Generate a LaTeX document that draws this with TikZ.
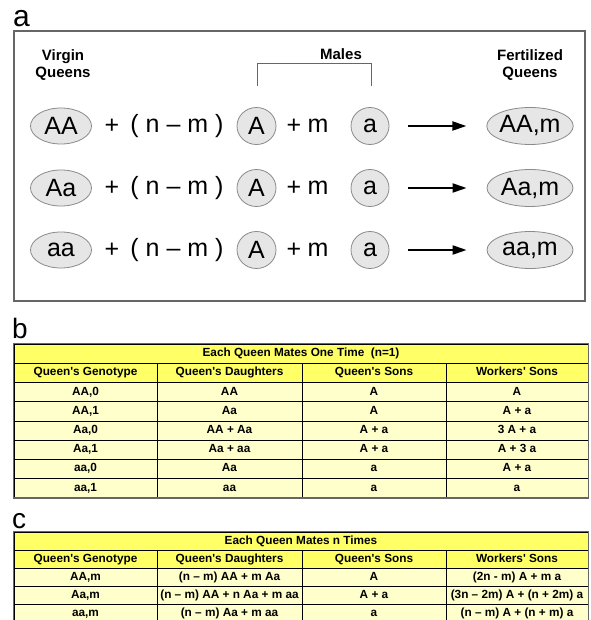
\documentclass[tikz,border=0pt]{standalone}
\usepackage{fontspec}
\setmainfont{Liberation Sans}
\usetikzlibrary{shapes.geometric,arrows.meta}
\definecolor{hdr}{HTML}{FFFF66}
\definecolor{rowc}{HTML}{FFFFCC}
\definecolor{ellf}{HTML}{E6E6E6}
\definecolor{elld}{HTML}{8A8A8A}
\definecolor{frm}{HTML}{666666}
\newcommand\mkrow[8]{%
 \node[cell,fill=#3,minimum width=143pt,minimum height=#8] (#1-1) at (85.5,#2) {#4};
 \node[cell,fill=#3,minimum width=145pt,minimum height=#8] (#1-2) at (229.5,#2) {#5};
 \node[cell,fill=#3,minimum width=144pt,minimum height=#8] (#1-3) at (374,#2) {#6};
 \node[cell,fill=#3,minimum width=142pt,minimum height=#8] (#1-4) at (517,#2) {#7};}
\newcommand\qs{\textquotesingle}
\begin{document}
\begin{tikzpicture}[x=1pt,y=-1pt,
  big/.style={font=\fontsize{25}{28}\selectfont, inner sep=0pt},
  panel/.style={font=\fontsize{30}{32}\selectfont, inner sep=0pt, anchor=base west},
  head/.style={font=\fontsize{15}{17.5}\selectfont\bfseries, align=center, inner sep=0pt},
  gen/.style={ellipse, draw=elld, fill=ellf, line width=0.8pt, inner sep=0pt,
     minimum height=36pt, font=\fontsize{25}{28}\selectfont},
  conn/.style={line width=2pt, -{Triangle[length=14pt,width=9pt]}},
  cell/.style={rectangle, draw=black, line width=0.6pt, inner sep=0pt,
     font=\fontsize{11.8}{13}\selectfont\bfseries, text height=8.6pt, text depth=2.4pt},
  ttl/.style={cell, minimum width=574pt, fill=hdr}]
\useasboundingbox (0,0) rectangle (590,620);

% ---------- panel a ----------
\node[panel] (la) at (13,27) {a};
\draw[frm, line width=1.2pt] (14,31) rectangle (585,301);
\node[head] (vq) at (63,65) {Virgin\\Queens};
\node[head] (ml) at (341,54) {Males};
\node[head] (fq) at (530,65) {Fertilized\\Queens};
\draw[frm, line width=1pt] (257,86) -- (257,64) -- (371,64) -- (371,86);

\foreach \y/\g/\r/\i in {126/AA/{AA,m}/1, 188/Aa/{Aa,m}/2, 250/aa/{aa,m}/3}{
  \node[gen, minimum width=61pt] (q\i) at (61,\y) {\g};
  \node[big] (p\i) at (112,\y) {+};
  \node[big] (nm\i) at (177,\y) {( n – m )};
  \node[gen, minimum width=39pt, minimum height=37pt] (cA\i) at (256.5,\y) {A};
  \node[big] (pp\i) at (294,\y) {+};
  \node[big] (m\i) at (318,\y) {m};
  \node[gen, minimum width=38pt, minimum height=37pt] (ca\i) at (370,\y) {a};
  \node[gen, minimum width=86pt, minimum height=37pt] (f\i) at (530,\y) {\r};
  \draw[conn, shorten <=19pt, shorten >=20pt] (ca\i) -- (f\i);
}

% ---------- panel b ----------
\node[panel, font=\fontsize{28}{30}\selectfont] (lb) at (12,338) {b};
\node[ttl, minimum height=19.2pt] (bt) at (301,353.6) {Each Queen Mates One Time \ (n=1)};
\mkrow{bh}{372.8}{hdr}{Queen\qs s Genotype}{Queen\qs s Daughters}{Queen\qs s Sons}{Workers\qs\ Sons}{19.2pt}
\mkrow{b1}{392}{rowc}{AA,0}{AA}{A}{A}{19.2pt}
\mkrow{b2}{411.2}{rowc}{AA,1}{Aa}{A}{A + a}{19.2pt}
\mkrow{b3}{430.4}{rowc}{Aa,0}{AA + Aa}{A + a}{3 A + a}{19.2pt}
\mkrow{b4}{449.6}{rowc}{Aa,1}{Aa + aa}{A + a}{A + 3 a}{19.2pt}
\mkrow{b5}{468.8}{rowc}{aa,0}{Aa}{a}{A + a}{19.2pt}
\mkrow{b6}{488}{rowc}{aa,1}{aa}{a}{a}{19.2pt}
\draw[frm, line width=1.5pt] (bt.north west) rectangle (b6-4.south east);

% ---------- panel c ----------
\node[panel, font=\fontsize{28}{30}\selectfont] (lc) at (12,528) {c};
\node[ttl, minimum height=18pt] (ct) at (301,541) {Each Queen Mates n Times};
\mkrow{ch}{559}{hdr}{Queen\qs s Genotype}{Queen\qs s Daughters}{Queen\qs s Sons}{Workers\qs\ Sons}{18pt}
\mkrow{c1}{577}{rowc}{AA,m}{(n – m) AA + m Aa}{A}{(2n - m) A + m a}{18pt}
\mkrow{c2}{595}{rowc}{Aa,m}{(n – m) AA + n Aa + m aa}{A + a}{(3n – 2m) A + (n + 2m) a}{18pt}
\mkrow{c3}{613}{rowc}{aa,m}{(n – m) Aa + m aa}{a}{(n – m) A + (n + m) a}{18pt}
\draw[frm, line width=1.5pt] (c3-1.south west) -- (ct.north west) -- (ct.north east) -- (c3-4.south east);
\end{tikzpicture}
\end{document}
